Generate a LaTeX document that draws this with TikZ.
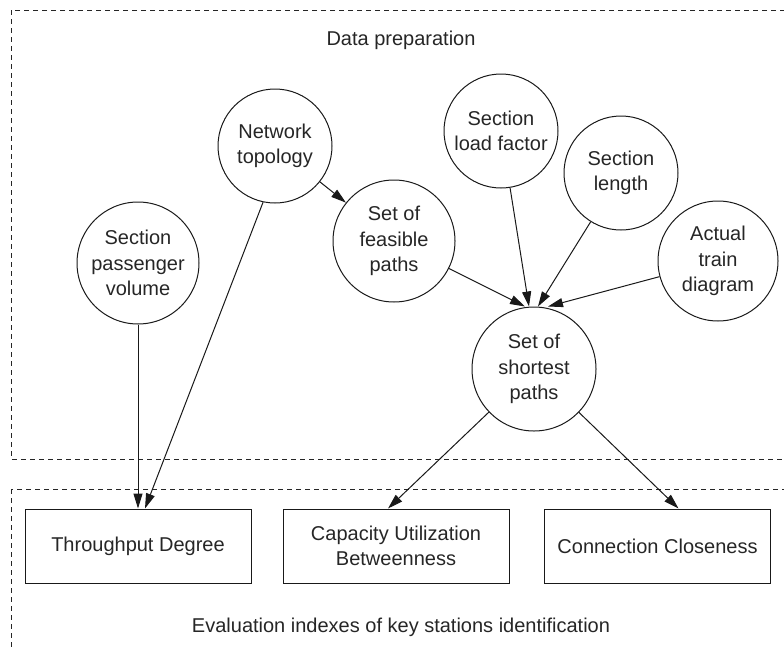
\documentclass[tikz,border=0pt]{standalone}
\usepackage{fontspec}
\setmainfont{Liberation Sans}
\usetikzlibrary{arrows.meta}
\newcommand\diafont{\fontsize{20}{25.5}\selectfont}
\begin{document}
\begin{tikzpicture}[x=1pt,y=-1pt,
  ink/.style={draw=black!90, line width=1pt},
  circ/.style={circle, ink, align=center, inner sep=0pt, font=\diafont, text=black!85},
  box/.style={rectangle, ink, align=center, minimum width=226pt, minimum height=74pt, font=\diafont, text=black!85},
  arr/.style={ink, -{Triangle[length=15pt,width=9pt]}},
  frame/.style={draw=black!85, line width=1pt, dash pattern=on 5pt off 4pt},
  lbl/.style={font=\diafont, text=black!85}]
\useasboundingbox (0,0) rectangle (784,648);
\clip (0,0) rectangle (784,648);
\draw[frame] (11,10) rectangle (795,459);
\draw[frame] (11,489) rectangle (795,660);
\node[lbl] (dp) at (401,40) {Data preparation};
\node[lbl] (ev) at (401,627) {Evaluation indexes of key stations identification};
\node[circ, minimum size=122pt] (pv) at (138,263) {Section\\passenger\\volume};
\node[circ, minimum size=114pt] (net) at (275,146) {Network\\topology};
\node[circ, minimum size=122pt] (fp) at (394,241) {Set of\\feasible\\paths};
\node[circ, minimum size=114pt] (lf) at (501,131) {Section\\load factor};
\node[circ, minimum size=114pt] (sl) at (621,173) {Section\\length};
\node[circ, minimum size=120pt] (at) at (718,261) {Actual\\train\\diagram};
\node[circ, minimum size=124pt] (sp) at (534,369) {Set of\\shortest\\paths};
\node[box] (thr) at (138,546) {Throughput Degree};
\node[box] (cub) at (396,546) {Capacity Utilization\\Betweenness};
\node[box] (cc) at (657.5,546) {Connection Closeness};
\draw[arr] (pv) -- (thr);
\draw[arr] (net.258) -- ([xshift=7pt]thr.north);
\draw[arr] (net) -- (fp);
\draw[arr] (fp) -- ([xshift=-9pt]sp.north);
\draw[arr] (lf) -- ([xshift=-5pt]sp.north);
\draw[arr] (sl) -- ([xshift=4pt]sp.north);
\draw[arr] (at) -- ([xshift=14pt]sp.north);
\draw[arr] (sp) -- ([xshift=-8pt]cub.north);
\draw[arr] (sp) -- ([xshift=21pt]cc.north);
\end{tikzpicture}
\end{document}
